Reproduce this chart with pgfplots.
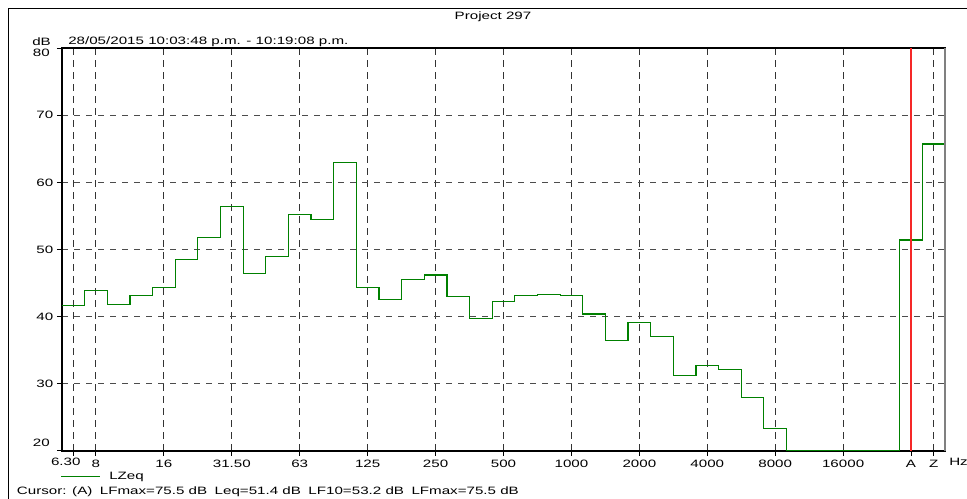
\documentclass[border=0pt]{standalone}
\usepackage{fontspec}
\setmainfont{Liberation Sans}[FakeStretch=1.42]
\usepackage{pgfplots}
\pgfplotsset{compat=1.18}
\definecolor{lgreen}{RGB}{0,128,0}
\definecolor{cred}{RGB}{245,40,40}
\begin{document}
\fontsize{8}{9.6}\selectfont
\begin{tikzpicture}
\useasboundingbox (0,0) rectangle (725.25pt,374.25pt);
\begin{axis}[
  at={(46.5pt,36pt)}, anchor=south west, scale only axis,
  width=662.25pt, height=302.25pt,
  xmin=-0.5, xmax=38.5, ymin=20, ymax=80,
  xtick={0,1,4,7,10,13,16,19,22,25,28,31,34,37,38},
  xticklabels={,8,16,31.50,63,125,250,500,1000,2000,4000,8000,16000,A,Z},
  ytick={20,30,40,50,60,70,80},
  yticklabels={,30,40,50,60,70,},
  tick align=outside, xtick pos=bottom, ytick pos=left,
  major tick length=3.75pt,
  tick style={black, line width=0.75pt},
  grid=major,
  x grid style={black!80, line width=0.75pt, dash pattern=on 5.25pt off 3.75pt},
  y grid style={black!70, line width=0.75pt, dash pattern=on 4.5pt off 4.5pt},
  axis line style={black, line width=1.1pt},
  /pgf/number format/assume math mode=true,
  tick label style={font=\fontsize{8}{9.6}\selectfont},
]
\addplot[const plot, lgreen, line width=0.9pt] coordinates {
 (-0.5,41.7) (0.5,43.9) (1.5,41.8) (2.5,43.1) (3.5,44.3) (4.5,48.5) (5.5,51.8)
 (6.5,56.4) (7.5,46.4) (8.5,49.0) (9.5,55.2) (10.5,54.5) (11.5,62.9) (12.5,44.4)
 (13.5,42.5) (14.5,45.5) (15.5,46.2) (16.5,43.0) (17.5,39.7) (18.5,42.2) (19.5,43.2)
 (20.5,43.3) (21.5,43.1) (22.5,40.4) (23.5,36.4) (24.5,39.1) (25.5,37.1) (26.5,31.3)
 (27.5,32.7) (28.5,32.1) (29.5,28.0) (30.5,23.4) (31.5,20) (32.5,20) (33.5,20)
 (34.5,20) (35.5,20) (36.5,51.4) (37.5,65.7) (38.5,65.7)};
\addplot[cred, line width=0.95pt] coordinates {(37,20) (37,80)};
\end{axis}
\begin{scope}[x=0.75pt, y=-0.75pt, yshift=374.25pt]
  \draw[black, line width=0.75pt] (8,9) -- (967,9);
  \draw[black, line width=0.75pt] (8,9) -- (8,499);
  \draw[black!50, line width=1.1pt] (945,48) -- (945,451);
  \node at (493,17) {Project 297};
  \node[anchor=west, inner sep=0] at (32,42) {dB};
  \node[anchor=west, inner sep=0] at (68,42) {28/05/2015 10:03:48 p.m. - 10:19:08 p.m.};
  \node[anchor=east, inner sep=0] at (50,53) {80};
  \node[anchor=east, inner sep=0] at (50,443) {20};
  \node at (65.8,462) {6.30};
  \node[anchor=west, inner sep=0] at (949,462) {Hz};
  \draw[lgreen, line width=0.75pt] (61,477) -- (100,477);
  \node[anchor=west, inner sep=0] at (109,477) {LZeq};
  \node[anchor=west, inner sep=0] at (16.7,491.7) {Cursor: (A)\hspace{0.7em}LFmax=75.5 dB\hspace{0.7em}Leq=51.4 dB\hspace{0.7em}LF10=53.2 dB\hspace{0.7em}LFmax=75.5 dB};
\end{scope}
\end{tikzpicture}
\end{document}
